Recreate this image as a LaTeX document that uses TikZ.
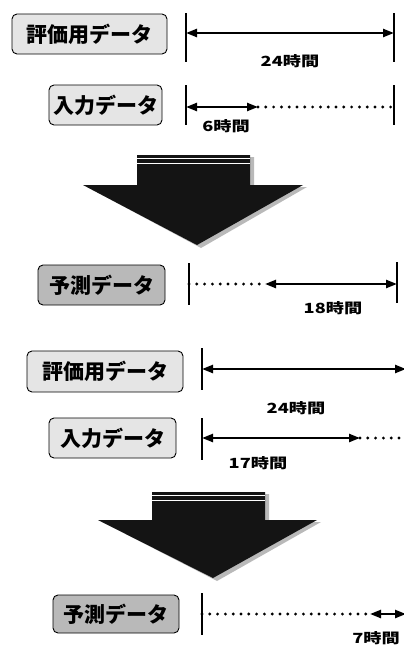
\documentclass[tikz,border=0pt]{standalone}
\usepackage{fontspec}
\newfontfamily\jp{Noto Sans CJK JP}
\usetikzlibrary{arrows.meta}
\tikzset{
  x=1pt, y=-1pt,
  lightbox/.style={draw=black, line width=0.9pt, rounded corners=5pt, fill=gray!20,
    inner sep=0pt, font=\jp\bfseries\fontsize{21}{22}\selectfont},
  darkbox/.style={draw=black, line width=0.9pt, rounded corners=5pt, fill=gray!55,
    inner sep=0pt, text=black, font=\jp\bfseries\fontsize{21}{22}\selectfont},
  tick/.style={line width=2pt},
  span/.style={line width=2.3pt, {Triangle[length=11pt,width=8pt]}-{Triangle[length=11pt,width=8pt]}},
  dots/.style={line width=3.2pt, line cap=round, dash pattern=on 0pt off 7.8pt},
  lbl/.style={inner sep=0pt, font=\jp\bfseries\fontsize{14}{15}\selectfont},
  bigarrow/.style={fill=black!92},
  shadow/.style={fill=gray!55},
}
\newcommand{\wide}[1]{\scalebox{1.3}[1]{#1}}
\begin{document}
\begin{tikzpicture}
\useasboundingbox (0,0) rectangle (404,648);

% ---------- top section ----------
\node[lightbox, minimum width=155pt, minimum height=40pt] (eval1) at (89.5,34) {評価用データ};
\node[lightbox, minimum width=113pt, minimum height=40pt] (in1) at (105.5,105) {入力データ};

\coordinate (a1t) at (186,13); \coordinate (a1b) at (186,62);
\coordinate (a2t) at (394,13); \coordinate (a2b) at (394,62);
\draw[tick] (a1t) -- (a1b);
\draw[tick] (a2t) -- (a2b);
\coordinate (a1) at (186,33); \coordinate (a2) at (394,33);
\draw[span] (a1) -- (a2);
\node[lbl] (l24a) at (290,61) {\wide{24時間}};

\coordinate (b1t) at (186,85); \coordinate (b1b) at (186,125);
\coordinate (b2t) at (394,85); \coordinate (b2b) at (394,125);
\draw[tick] (b1t) -- (b1b);
\draw[tick] (b2t) -- (b2b);
\coordinate (b1) at (186,107); \coordinate (bm) at (258,107); \coordinate (b2) at (394,107);
\draw[dots] (bm) -- (b2);
\draw[span] (b1) -- (bm);
\node[lbl] (l6) at (226,126) {\wide{6時間}};

% big arrow 1
\fill[shadow] (141,157) -- (254,157) -- (254,187) -- (307,187) -- (201,248) -- (87,187) -- (141,187) -- cycle;
\fill[bigarrow] (137,155) -- (250,155) -- (250,185) -- (303,185) -- (197,245) -- (83,185) -- (137,185) -- cycle;
\draw[white, line width=0.8pt] (137,158.5) -- (250,158.5);
\draw[white, line width=0.6pt] (137,163) -- (250,163);

\node[darkbox, minimum width=127pt, minimum height=40pt] (pred1) at (101.5,285) {予測データ};
\coordinate (c1t) at (189,263); \coordinate (c1b) at (189,305);
\coordinate (c2t) at (397,262); \coordinate (c2b) at (397,303);
\draw[tick] (c1t) -- (c1b);
\draw[tick] (c2t) -- (c2b);
\coordinate (c1) at (189,284); \coordinate (cm) at (265,284); \coordinate (c2) at (397,284);
\draw[dots] (c1) -- (cm);
\draw[span] (cm) -- (c2);
\node[lbl] (l18) at (333,308) {\wide{18時間}};

% ---------- bottom section ----------
\node[lightbox, minimum width=156pt, minimum height=41pt] (eval2) at (105,371.5) {評価用データ};
\node[lightbox, minimum width=127pt, minimum height=40pt] (in2) at (112.5,438) {入力データ};

\coordinate (d1t) at (202,348); \coordinate (d1b) at (202,390);
\draw[tick] (d1t) -- (d1b);
\coordinate (d1) at (202,369); \coordinate (d2) at (406,369);
\draw[span] (d1) -- (d2);
\node[lbl] (l24b) at (296,408) {\wide{24時間}};

\coordinate (e1t) at (202,418); \coordinate (e1b) at (202,460);
\draw[tick] (e1t) -- (e1b);
\coordinate (e1) at (202,438); \coordinate (em) at (360,438); \coordinate (e2) at (410,438);
\draw[dots] (em) -- (e2);
\draw[span] (e1) -- (em);
\node[lbl] (l17) at (258,463) {\wide{17時間}};

% big arrow 2
\fill[shadow] (156,494) -- (269,494) -- (269,522) -- (321,522) -- (217,581) -- (102,522) -- (156,522) -- cycle;
\fill[bigarrow] (152,492) -- (265,492) -- (265,520) -- (317,520) -- (213,578) -- (98,520) -- (152,520) -- cycle;
\draw[white, line width=0.8pt] (152,495.5) -- (265,495.5);
\draw[white, line width=0.6pt] (152,500) -- (265,500);

\node[darkbox, minimum width=126pt, minimum height=38pt] (pred2) at (116,614) {予測データ};
\coordinate (f1t) at (202,593); \coordinate (f1b) at (202,635);
\draw[tick] (f1t) -- (f1b);
\coordinate (f1) at (202,614); \coordinate (fm) at (370,614); \coordinate (f2) at (406,614);
\draw[dots] (f1) -- (fm);
\draw[span] (fm) -- (f2);
\node[lbl] (l7) at (376,638) {\wide{7時間}};
\end{tikzpicture}
\end{document}
